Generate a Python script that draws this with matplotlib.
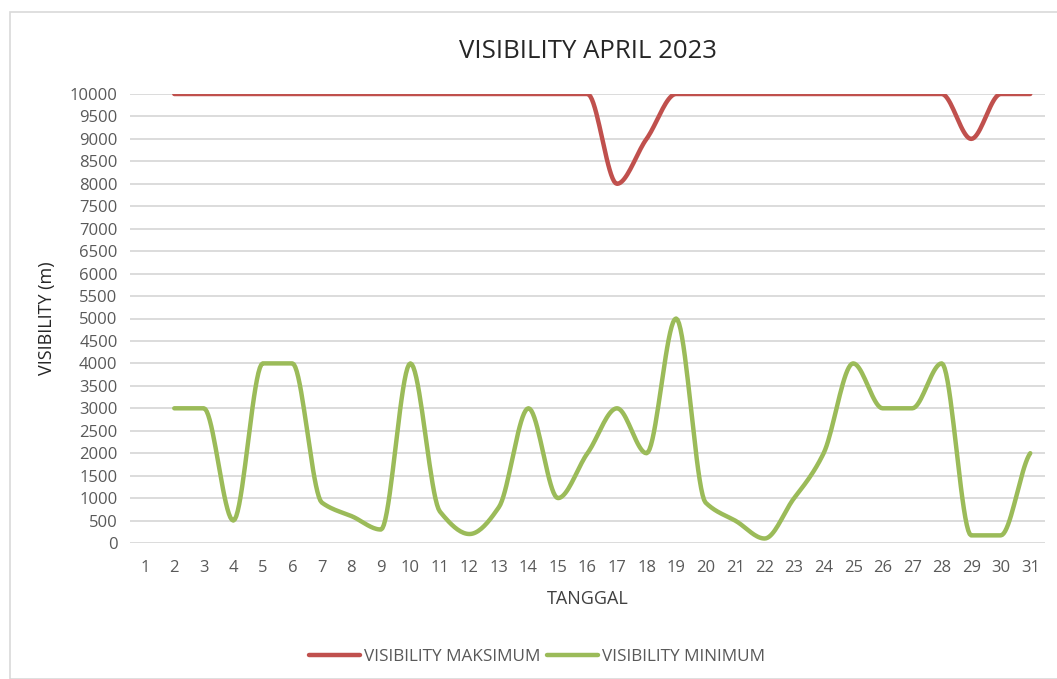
import matplotlib.pyplot as plt
import numpy as np
from matplotlib.patches import Rectangle

# data (tanggal 2..31)
tanggal = list(range(2, 32))
vis_maks = [10000, 10000, 10000, 10000, 10000, 10000, 10000, 10000, 10000, 10000,
            10000, 10000, 10000, 10000, 10000, 8000, 9000, 10000, 10000, 10000,
            10000, 10000, 10000, 10000, 10000, 10000, 10000, 9000, 10000, 10000]
vis_min = [3000, 3000, 500, 4000, 4000, 900, 600, 300, 4000, 700,
           200, 800, 3000, 1000, 2000, 3000, 2000, 5000, 900, 500,
           100, 1000, 2000, 4000, 3000, 3000, 4000, 170, 170, 2000]
xlabels = [str(i) for i in range(1, 32)]


# smoothed line (cubic through the points, no overshoot), only for drawing
def smooth(x, y, n=20, k=0.45):
    x = np.asarray(x, float)
    y = np.asarray(y, float)
    d = np.diff(y)
    m = np.zeros_like(y)
    for i in range(1, len(y) - 1):
        if d[i - 1] * d[i] > 0:
            m[i] = (d[i - 1] + d[i]) * k
            lim = 1.6 * min(abs(d[i - 1]), abs(d[i]))
            m[i] = np.clip(m[i], -lim, lim)
    m[0] = d[0] * 0.5
    m[-1] = d[-1] * 0.5
    xs, ys = [], []
    t = np.linspace(0, 1, n, endpoint=False)
    for i in range(len(y) - 1):
        h00 = 2*t**3 - 3*t**2 + 1
        h10 = t**3 - 2*t**2 + t
        h01 = -2*t**3 + 3*t**2
        h11 = t**3 - t**2
        xs.extend(x[i] + t * (x[i + 1] - x[i]))
        ys.extend(h00*y[i] + h10*m[i] + h01*y[i + 1] + h11*m[i + 1])
    xs.append(x[-1])
    ys.append(y[-1])
    return np.array(xs), np.array(ys)


plt.rcParams['font.family'] = ['Open Sans', 'DejaVu Sans']
gray = '#595959'

fig = plt.figure(figsize=(10.57, 6.79), dpi=100)
fig.patches.append(Rectangle((10/1057, 0), 1.1, 1 - 12/679, transform=fig.transFigure,
                             fill=False, edgecolor='#D9D9D9', linewidth=1.2))
ax = fig.add_axes([130/1057, 136/679, 915/1057, 449/679])

red = '#C0504D'
green = '#9BBB59'
sx, sy = smooth(tanggal, vis_maks)
ax.plot(sx, sy, color=red, linewidth=3.2, label='VISIBILITY MAKSIMUM', solid_capstyle='round')
sx, sy = smooth(tanggal, vis_min)
ax.plot(sx, sy, color=green, linewidth=3.2, label='VISIBILITY MINIMUM', solid_capstyle='round')

ax.set_xlim(0.5, 31.5)
ax.set_ylim(0, 10000)
ax.set_xticks(range(1, 32))
ax.set_xticklabels(xlabels)
ax.set_yticks(range(0, 10001, 500))
ax.grid(axis='y', color='#D9D9D9', linewidth=1.3)
ax.set_axisbelow(True)
for s in ax.spines.values():
    s.set_visible(False)
ax.tick_params(axis='y', length=0, labelsize=12, labelcolor=gray, pad=9)
ax.tick_params(axis='x', length=0, labelsize=12, labelcolor=gray, pad=12)

ax.set_title('VISIBILITY APRIL 2023', fontsize=18.5, color='#262626', pad=26)
ax.set_xlabel('TANGGAL', fontsize=13, color='#404040', labelpad=10)
ax.set_ylabel('VISIBILITY (m)', fontsize=13, color='#262626', labelpad=10)

fig.legend(loc='center', bbox_to_anchor=(537/1057, 1 - 657/679), ncol=2, frameon=False,
           fontsize=12.3, labelcolor=gray, handlelength=3.0, columnspacing=0.4, handletextpad=0.2)

plt.savefig('out.png', dpi=100)
